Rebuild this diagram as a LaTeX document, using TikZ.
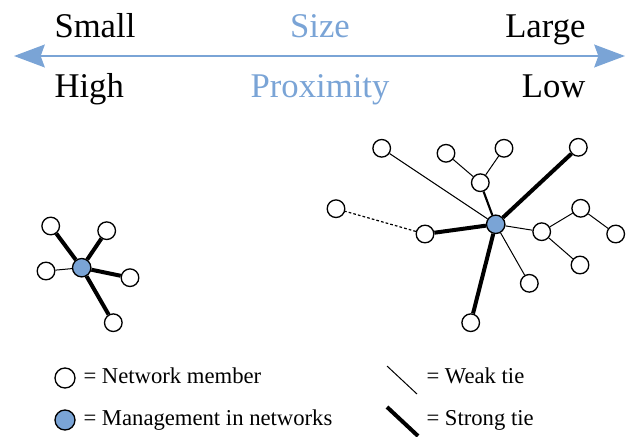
\documentclass[tikz,border=0pt]{standalone}
\usepackage{fontspec}
\setmainfont{Liberation Serif}
\usetikzlibrary{arrows.meta}

\definecolor{netblue}{RGB}{122,164,214}

\tikzset{every picture/.style={line width=0.75pt}}
\tikzset{
  member/.style={circle, draw, line width=1pt, fill=white, inner sep=0pt, minimum size=13.2pt},
  manager/.style={member, fill=netblue, minimum size=13.8pt},
  weaktie/.style={line width=0.75pt},
  midtie/.style={line width=1.6pt},
  strongtie/.style={line width=3pt},
  looselink/.style={line width=0.9pt, dash pattern={on 2pt off 1.6pt}},
  bigtext/.style={font=\fontsize{26}{30}\selectfont, inner sep=0pt},
  keytext/.style={font=\fontsize{17}{20}\selectfont, inner sep=0pt, anchor=base west}
}

\begin{document}
\begin{tikzpicture}[x=0.75pt,y=0.75pt,yscale=-1,xscale=1]
	\useasboundingbox (0,0) rectangle (630,436);

	%Straight Lines: size / proximity scale
	\coordinate (scaleL) at (14,56);
	\coordinate (scaleR) at (625,56);
	\draw [netblue, line width=2pt, {Stealth[length=23pt,width=17pt,inset=3pt]}-{Stealth[length=23pt,width=17pt,inset=3pt]}] (scaleL) -- (scaleR) ;

	% Text Node
	\node (small) [bigtext, anchor=base west] at (54,37) {Small};
	\node (size) [bigtext, anchor=base, text=netblue] at (320,37) {Size};
	\node (large) [bigtext, anchor=base east] at (586,37) {Large};
	\node (high) [bigtext, anchor=base west] at (54,97) {High};
	\node (prox) [bigtext, anchor=base, text=netblue] at (320,97) {Proximity};
	\node (low) [bigtext, anchor=base east] at (586,97) {Low};

	%Shape: Circle -- small network
	\node (shub) [manager] at (81.7,267.7) {};
	\node (s1) [member] at (50.7,226) {};
	\node (s2) [member] at (106.7,230.7) {};
	\node (s3) [member] at (46,271) {};
	\node (s4) [member] at (130,277.7) {};
	\node (s5) [member] at (113.3,322.7) {};

	%Straight Lines -- small network
	\draw [strongtie] (shub) -- (s1) ;
	\draw [strongtie] (shub) -- (s2) ;
	\draw [weaktie] (shub) -- (s3) ;
	\draw [strongtie] (shub) -- (s4) ;
	\draw [strongtie] (shub) -- (s5) ;

	%Shape: Circle -- large network
	\node (bhub) [manager] at (495.7,224.3) {};
	\node (b1) [member] at (381.7,148.3) {};
	\node (b2) [member] at (446,153.3) {};
	\node (b3) [member] at (504,148.3) {};
	\node (b4) [member] at (480.3,182.7) {};
	\node (b5) [member] at (578.3,147.3) {};
	\node (b6) [member] at (336,208.7) {};
	\node (b7) [member] at (425,234) {};
	\node (b8) [member] at (541.7,231.7) {};
	\node (b9) [member] at (580.7,208.3) {};
	\node (b10) [member] at (615.7,234) {};
	\node (b11) [member] at (580,265) {};
	\node (b12) [member] at (529.3,283.3) {};
	\node (b13) [member] at (470.7,322.7) {};

	%Straight Lines -- large network
	\draw [weaktie] (bhub) -- (b1) ;
	\draw [midtie] (bhub) -- (b4) ;
	\draw [weaktie] (b4) -- (b2) ;
	\draw [weaktie] (b4) -- (b3) ;
	\draw [strongtie] (bhub) -- (b5) ;
	\draw [strongtie] (bhub) -- (b7) ;
	\draw [looselink] (b7) -- (b6) ;
	\draw [weaktie] (bhub) -- (b8) ;
	\draw [weaktie] (b8) -- (b9) ;
	\draw [weaktie] (b9) -- (b10) ;
	\draw [weaktie] (b8) -- (b11) ;
	\draw [weaktie] (bhub) -- (b12) ;
	\draw [strongtie] (bhub) -- (b13) ;

	%Legend
	\node (keymember) [member, minimum size=15pt] at (65,378) {};
	\node (keymanager) [manager, minimum size=15pt] at (65,420) {};
	\node (keymembertxt) [keytext] at (83,383) {= Network member};
	\node (keymanagertxt) [keytext] at (83,425) {= Management in networks};
	\coordinate (weakA) at (387,366);
	\coordinate (weakB) at (417,394);
	\coordinate (strongA) at (387,407);
	\coordinate (strongB) at (418,436);
	\draw [weaktie] (weakA) -- (weakB) ;
	\draw [strongtie] (strongA) -- (strongB) ;
	\node (weaktxt) [keytext] at (426,383) {= Weak tie};
	\node (strongtxt) [keytext] at (426,425) {= Strong tie};

\end{tikzpicture}
\end{document}
